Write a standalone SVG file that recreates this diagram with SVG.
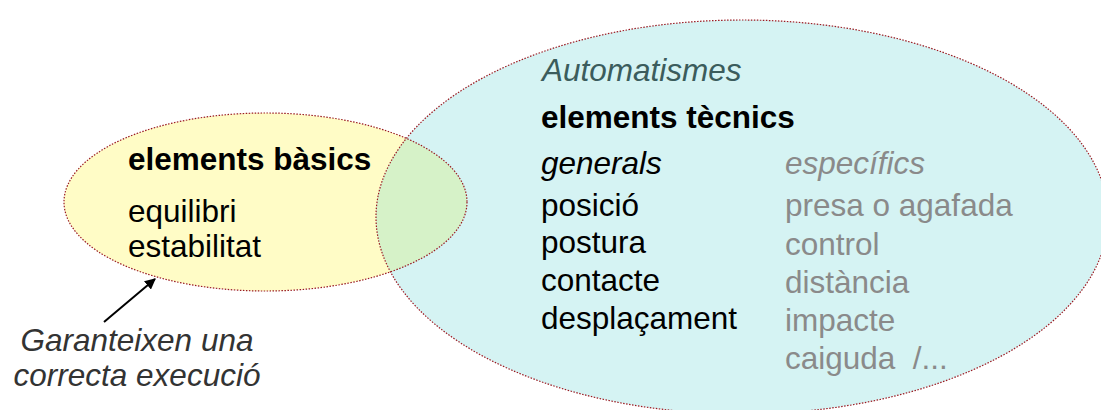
<svg xmlns="http://www.w3.org/2000/svg" width="1101" height="410" viewBox="0 0 1101 410">
<style>
.outline{fill:none;stroke:#9a1a22;stroke-width:1.2;stroke-dasharray:1.5 1.5}
text{font-family:"Liberation Sans",Arial,sans-serif;font-size:31.5px}
.b{font-weight:bold;fill:#000}
.n{fill:#000}
.g{fill:#8a8a8a}
.i{font-style:italic}
</style>
<defs>
<clipPath id="clipSmall"><ellipse cx="265.5" cy="202" rx="201.5" ry="89"/></clipPath>
<marker id="arrow" viewBox="0 0 10 10" refX="9" refY="5" markerWidth="5.5" markerHeight="5.5" orient="auto" markerUnits="strokeWidth">
<path d="M0,0 L10,5 L0,10 z" fill="#000"/>
</marker>
</defs>
<rect width="1101" height="410" fill="#fff"/>
<g id="basic-elements">
<ellipse cx="265.5" cy="202" rx="201.5" ry="89" fill="#fffcc6"/>
</g>
<g id="technical-elements">
<ellipse cx="742" cy="217" rx="366" ry="197" fill="#d5f3f3"/>
</g>
<g id="overlap">
<ellipse cx="742" cy="217" rx="366" ry="197" fill="#d6f2c8" clip-path="url(#clipSmall)"/>
<ellipse class="outline" cx="265.5" cy="202" rx="201.5" ry="89"/>
<ellipse class="outline" cx="742" cy="217" rx="366" ry="197"/>
</g>
<g id="basic-texts">
<text class="b" x="128" y="170">elements bàsics</text>
<text class="n" x="128" y="222">equilibri</text>
<text class="n" x="128" y="257">estabilitat</text>
</g>
<g id="technical-texts">
<text class="i" x="542" y="81" fill="#3b5c5c">Automatismes</text>
<text class="b" x="541" y="128">elements tècnics</text>
<text class="n i" x="541" y="174">generals</text>
<text class="n" x="541" y="216">posició</text>
<text class="n" x="541" y="253">postura</text>
<text class="n" x="541" y="291">contacte</text>
<text class="n" x="541" y="329">desplaçament</text>
<text class="g i" x="785" y="174">específics</text>
<text class="g" x="785" y="216">presa o agafada</text>
<text class="g" x="785" y="255">control</text>
<text class="g" x="785" y="293">distància</text>
<text class="g" x="785" y="331">impacte</text>
<text class="g" x="785" y="369" xml:space="preserve">caiguda  /...</text>
</g>
<g id="connectors">
<line x1="104" y1="322" x2="155" y2="279" stroke="#000" stroke-width="2" marker-end="url(#arrow)"/>
</g>
<g id="note">
<text class="i" x="137" y="351" text-anchor="middle" fill="#333">Garanteixen una</text>
<text class="i" x="137" y="386" text-anchor="middle" fill="#333">correcta execució</text>
</g>
</svg>
